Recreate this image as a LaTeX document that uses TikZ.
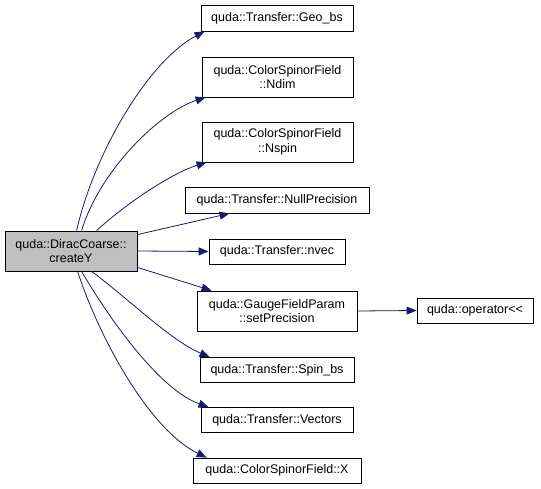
\documentclass[tikz,border=0pt]{standalone}
\usepackage{fontspec}
\setmainfont{Liberation Sans}
\usetikzlibrary{calc, arrows.meta}
\definecolor{edgeblue}{HTML}{191970}
\definecolor{rootgray}{HTML}{BFBFBF}

\begin{document}
\begin{tikzpicture}[x=1pt,y=-1pt,
    fn/.style={draw=black,fill=white,inner sep=0pt,align=center,
        font=\fontsize{12.5}{14.5}\selectfont,line width=0.8pt},
    call/.style={draw=edgeblue,line width=0.8pt,-{Triangle[length=10pt,width=8pt]}}]
            \useasboundingbox (0,0) rectangle (541,489);
            \node[fn,fill=rootgray,minimum width=132,minimum height=40] (root) at (71,251) {quda::DiracCoarse::\\createY};
            \node[fn,minimum width=152,minimum height=26] (geo) at (277,18) {quda::Transfer::Geo\_bs};
            \node[fn,minimum width=151,minimum height=40] (ndim) at (277.5,77) {quda::ColorSpinorField\\::Ndim};
            \node[fn,minimum width=151,minimum height=40] (nspin) at (277.5,142) {quda::ColorSpinorField\\::Nspin};
            \node[fn,minimum width=184,minimum height=26] (nullp) at (277,200) {quda::Transfer::NullPrecision};
            \node[fn,minimum width=136,minimum height=25] (nvec) at (277,251.5) {quda::Transfer::nvec};
            \node[fn,minimum width=160,minimum height=40] (setp) at (277,311) {quda::GaugeFieldParam\\::setPrecision};
            \node[fn,minimum width=154,minimum height=25] (spinbs) at (277,370) {quda::Transfer::Spin\_bs};
            \node[fn,minimum width=152,minimum height=25] (vecs) at (277,420) {quda::Transfer::Vectors};
            \node[fn,minimum width=168,minimum height=25] (xfield) at (277,470.5) {quda::ColorSpinorField::X};
            \node[fn,minimum width=116,minimum height=25] (oper) at (475,310.5) {quda::operator{<}{<}};
            \draw[call] ($(root.north west)+(72,0)$) .. controls (95,150) and (150,60) .. ($(geo.south west)+(4,0)$);
            \draw[call] ($(root.north west)+(77,0)$) .. controls (100,170) and (160,112) .. ($(ndim.south west)+(4,0)$);
            \draw[call] ($(root.north west)+(92,0)$) .. controls (130,200) and (175,172) .. ($(nspin.south west)+(5,0)$);
            \draw[call] ($(root.north east)+(0,4)$) -- ($(nullp.south west)+(45,0)$);
            \draw[call] (root.east) -- (nvec.west);
            \draw[call] ($(root.south east)+(0,-4)$) -- ($(setp.north west)+(15,0)$);
            \draw[call] ($(root.south west)+(87,0)$) .. controls (130,300) and (170,340) .. ($(spinbs.north west)+(10,0)$);
            \draw[call] ($(root.south west)+(77,0)$) .. controls (110,320) and (160,390) .. ($(vecs.north west)+(8,0)$);
            \draw[call] ($(root.south west)+(73,0)$) .. controls (100,340) and (150,430) .. ($(xfield.north west)+(14,0)$);
            \draw[call] (setp.east) -- (oper.west);
        \end{tikzpicture}
\end{document}
